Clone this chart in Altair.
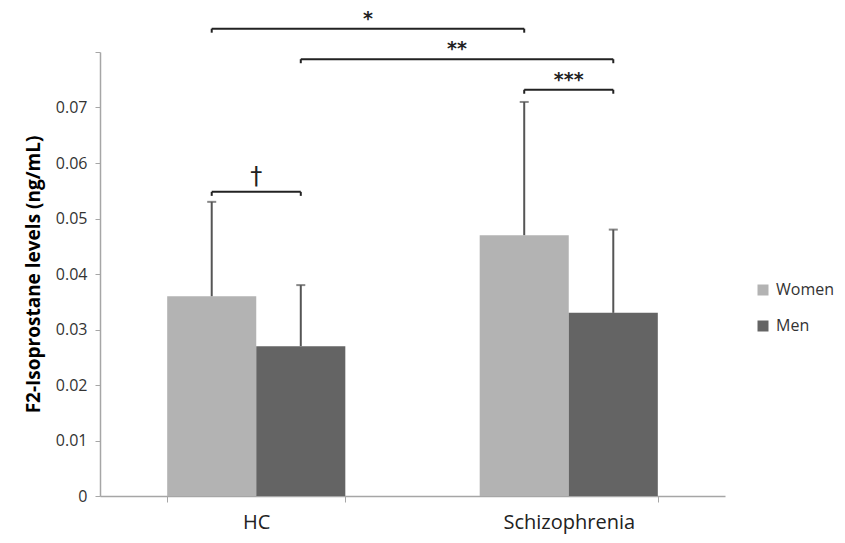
import altair as alt
import pandas as pd

# ---- data ----
groups = ["HC", "Schizophrenia"]
sexes = ["Women", "Men"]
means = {"Women": [0.036, 0.047], "Men": [0.027, 0.033]}
errors = {"Women": [0.017, 0.024], "Men": [0.011, 0.015]}

# significance brackets: (group_a, sex_a, group_b, sex_b, level, label)
br_group_a = ["HC", "HC", "Schizophrenia", "HC"]
br_sex_a = ["Women", "Men", "Women", "Women"]
br_group_b = ["Schizophrenia", "Schizophrenia", "Schizophrenia", "HC"]
br_sex_b = ["Women", "Men", "Men", "Men"]
br_level = [0.0842, 0.0787, 0.0732, 0.0548]
br_label = ["*", "**", "***", "\u2020"]

y_ticks = [0, 0.01, 0.02, 0.03, 0.04, 0.05, 0.06, 0.07, 0.08]

PAD_INNER = 0.43
PAD_OUTER = PAD_INNER / 2
FONT = "Open Sans"

rows = []
for s in sexes:
    for i, g in enumerate(groups):
        rows.append({"group": g, "sex": s, "mean": means[s][i],
                     "upper": means[s][i] + errors[s][i]})
df = pd.DataFrame(rows)

# bar-centre positions on a [0, n] linear scale matching the band scale
half = (1 - PAD_INNER) / 4


def centre(g, s):
    i = groups.index(g)
    return i + 0.5 + (-half if s == "Women" else half)


br = pd.DataFrame({
    "xa": [centre(g, s) for g, s in zip(br_group_a, br_sex_a)],
    "xb": [centre(g, s) for g, s in zip(br_group_b, br_sex_b)],
    "level": br_level,
    "label": br_label,
})
br["xm"] = (br["xa"] + br["xb"]) / 2
ends = pd.concat([
    br[["xa", "level"]].rename(columns={"xa": "x"}),
    br[["xb", "level"]].rename(columns={"xb": "x"}),
])

yscale = alt.Scale(domain=[0, 0.08], nice=False, zero=True)
xband = alt.Scale(domain=groups, paddingInner=PAD_INNER, paddingOuter=PAD_OUTER)
xoff = alt.XOffset("sex:N", scale=alt.Scale(domain=sexes, paddingInner=0, paddingOuter=0))

yaxis = alt.Axis(
    values=y_ticks, grid=False, title="F2-Isoprostane levels (ng/mL)",
    titleFont=FONT, titleFontSize=19, titleFontWeight="bold", titleColor="#000000",
    titlePadding=12,
    labelFont=FONT, labelFontSize=16, labelColor="#333333", labelPadding=8,
    labelExpr="datum.value > 0.075 ? '' : (datum.value == 0 ? '0' : format(datum.value, '.2f'))",
    domainColor="#a6a6a6", tickColor="#a6a6a6", tickSize=5, domainWidth=1.5,
)
xaxis = alt.Axis(
    title=None, labelAngle=0, labelFont=FONT, labelFontSize=20, labelColor="#222222",
    labelPadding=10, tickBand="extent", tickSize=6, domainColor="#a6a6a6",
    tickColor="#a6a6a6", domainWidth=1.5)

bars = alt.Chart(df).mark_bar(stroke=None).encode(
    x=alt.X("group:N", scale=xband, sort=groups, axis=xaxis),
    xOffset=xoff,
    y=alt.Y("mean:Q", scale=yscale, axis=yaxis),
    color=alt.Color("sex:N", scale=alt.Scale(domain=sexes, range=["#b3b3b3", "#646464"]),
                    legend=alt.Legend(title=None, orient="none", legendX=655, legendY=230,
                                      symbolType="square", symbolSize=121, symbolStrokeWidth=0,
                                      labelFont=FONT, labelFontSize=16, labelColor="#333333",
                                      rowPadding=20, labelOffset=5)),
)

err = alt.Chart(df).mark_rule(color="#555555", strokeWidth=2).encode(
    x=alt.X("group:N", scale=xband, sort=groups),
    xOffset=xoff,
    y=alt.Y("mean:Q", scale=yscale),
    y2="upper:Q",
)
caps = alt.Chart(df).mark_tick(color="#555555", thickness=2, size=9).encode(
    x=alt.X("group:N", scale=xband, sort=groups),
    xOffset=xoff,
    y=alt.Y("upper:Q", scale=yscale),
)
main = alt.layer(bars, err, caps)

xlin = alt.Scale(domain=[0, len(groups)], nice=False, zero=False)
hline = alt.Chart(br).mark_rule(color="#222222", strokeWidth=2).encode(
    x=alt.X("xa:Q", scale=xlin, axis=None), x2="xb:Q",
    y=alt.Y("level:Q", scale=yscale),
)
eticks = alt.Chart(ends).mark_rule(color="#222222", strokeWidth=2, y2Offset=4).encode(
    x=alt.X("x:Q", scale=xlin, axis=None),
    y=alt.Y("level:Q", scale=yscale), y2="level:Q",
)
stars = alt.Chart(br).transform_filter("datum.label != '\u2020'").mark_text(
    font="DejaVu Sans", fontSize=19, fontWeight="bold", baseline="alphabetic", dy=-4,
    color="#222222").encode(
    x=alt.X("xm:Q", scale=xlin, axis=None),
    y=alt.Y("level:Q", scale=yscale), text="label:N",
)
dagger = alt.Chart(br).transform_filter("datum.label == '\u2020'").mark_text(
    font="DejaVu Sans", fontSize=24, baseline="alphabetic", dy=-8, color="#222222").encode(
    x=alt.X("xm:Q", scale=xlin, axis=None),
    y=alt.Y("level:Q", scale=yscale), text="label:N",
)
ann = alt.layer(hline, eticks, stars, dagger)

chart = alt.layer(main, ann).resolve_scale(x="independent").properties(
    width=625, height=444,
    autosize=alt.AutoSizeParams(type="none"),
    padding={"left": 92, "top": 44, "right": 112, "bottom": 39},
).configure_view(stroke=None)

chart.save("out.html", embed_options={"renderer": "svg", "actions": False})
